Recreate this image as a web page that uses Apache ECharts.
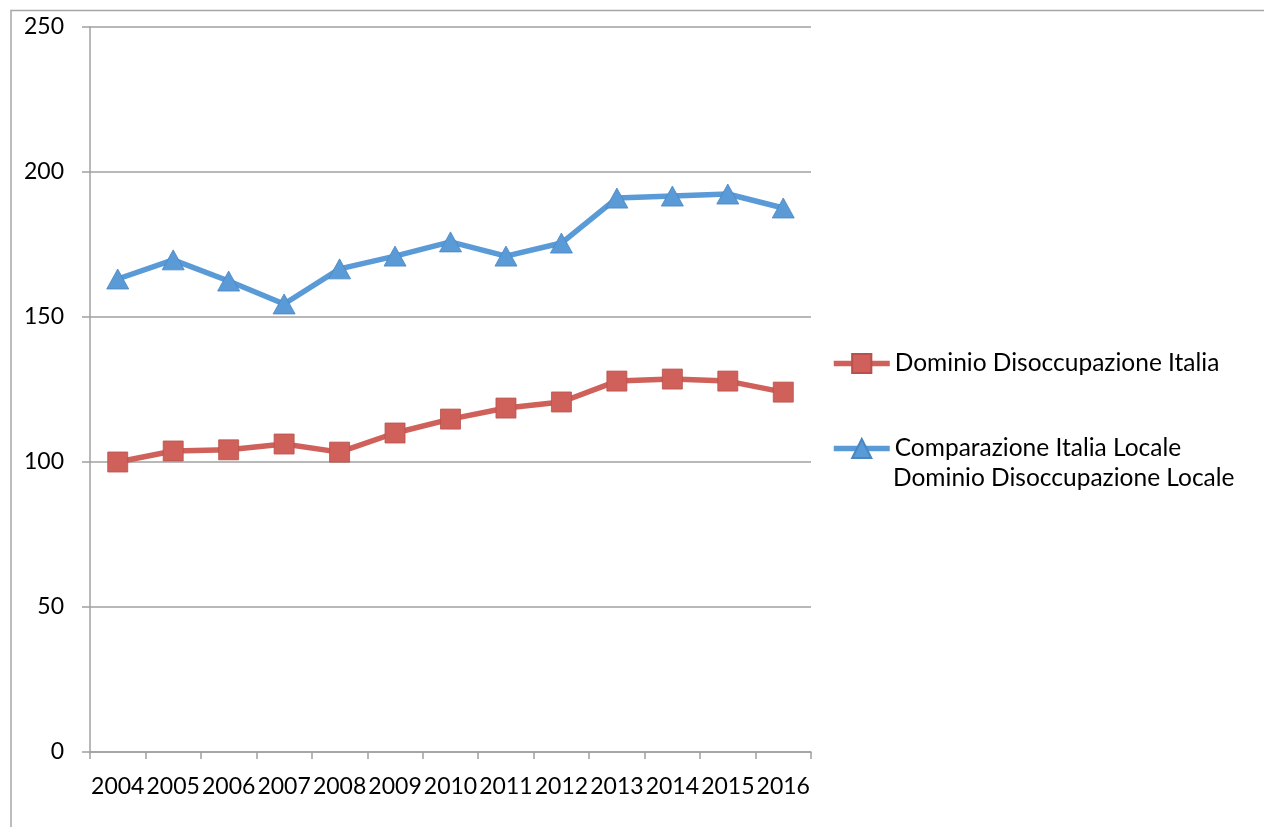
<!DOCTYPE html>
<html>
<head>
<meta charset="utf-8">
<script src="https://cdn.jsdelivr.net/npm/echarts@6/dist/echarts.min.js"></script>
<style>html,body{margin:0;padding:0;background:#fff}#c{width:1264px;height:827px}</style>
</head>
<body>
<div id="c"></div>
<script>
const years = ['2004','2005','2006','2007','2008','2009','2010','2011','2012','2013','2014','2015','2016'];
const italia = [100, 103.8, 104.2, 106.2, 103.4, 110, 114.8, 118.6, 120.7, 127.9, 128.6, 127.9, 124.1];
const locale = [163.1, 169.7, 162.4, 154.5, 166.6, 171, 175.9, 171, 175.5, 191, 191.7, 192.4, 187.6];
const nameItalia = 'Dominio Disoccupazione Italia';
const nameLocale = 'Comparazione Italia Locale Dominio Disoccupazione Locale';
const localeLine1 = 'Comparazione Italia Locale';
const localeLine2 = 'Dominio Disoccupazione Locale';
const yTicks = [0, 50, 100, 150, 200, 250];

const red = '#CF605A', blue = '#5A9AD6';
const font = 'Lato, "Open Sans", sans-serif';
const legendFont = 24.5;
const axisFont = 23;
const chart = echarts.init(document.getElementById('c'));
chart.setOption({
  animation: false,
  backgroundColor: '#fff',
  textStyle: { fontFamily: font },
  graphic: [{
    type: 'rect', shape: { x: 11, y: 10.5, width: 1400, height: 1000 },
    style: { fill: 'none', stroke: '#A6A6A6', lineWidth: 1.5 }, silent: true
  }, {
    type: 'text', left: 893, top: 481 - 15,
    style: { text: localeLine2, fontSize: legendFont, fontFamily: font, fill: '#000' }, silent: true
  }],
  grid: { left: 90, top: 27, right: 453, bottom: 75 },
  legend: [{
    data: [nameItalia], orient: 'vertical', left: 831, top: 363 - 12, padding: 0,
    itemWidth: 56, itemHeight: 24,
    lineStyle: { width: 5.5 },
    textStyle: { fontSize: legendFont, color: '#000', fontFamily: font }
  }, {
    data: [nameLocale], orient: 'vertical', left: 831, top: 448 - 12, padding: 0,
    itemWidth: 56, itemHeight: 24,
    lineStyle: { width: 5.5 },
    formatter: () => localeLine1,
    textStyle: { fontSize: legendFont, color: '#000', fontFamily: font }
  }],
  xAxis: {
    type: 'category', data: years, boundaryGap: true,
    axisLine: { lineStyle: { color: '#A0A0A0', width: 1.5 } },
    axisTick: { show: true, length: 7, lineStyle: { color: '#A0A0A0', width: 1.5 } },
    axisLabel: { fontSize: axisFont, color: '#000', margin: 23, interval: 0, fontFamily: font }
  },
  yAxis: {
    type: 'value', min: yTicks[0], max: yTicks[yTicks.length - 1], interval: 50,
    axisLine: { show: true, lineStyle: { color: '#A0A0A0', width: 1.5 } },
    axisTick: { show: true, length: 8, lineStyle: { color: '#A0A0A0', width: 1.5 } },
    splitLine: { show: true, lineStyle: { color: '#A0A0A0', width: 1.5 } },
    axisLabel: { fontSize: axisFont, color: '#000', margin: 26, fontFamily: font }
  },
  series: [{
    name: nameItalia, type: 'line', data: italia,
    symbol: 'rect', symbolSize: 20,
    lineStyle: { color: red, width: 5.5 },
    itemStyle: { color: red, borderColor: '#B9504B', borderWidth: 0.8 }
  }, {
    name: nameLocale, type: 'line', data: locale,
    symbol: 'triangle', symbolSize: [22, 20],
    lineStyle: { color: blue, width: 5.5 },
    itemStyle: { color: blue, borderColor: '#4A86C0', borderWidth: 0.8 }
  }]
});
</script>
</body>
</html>
